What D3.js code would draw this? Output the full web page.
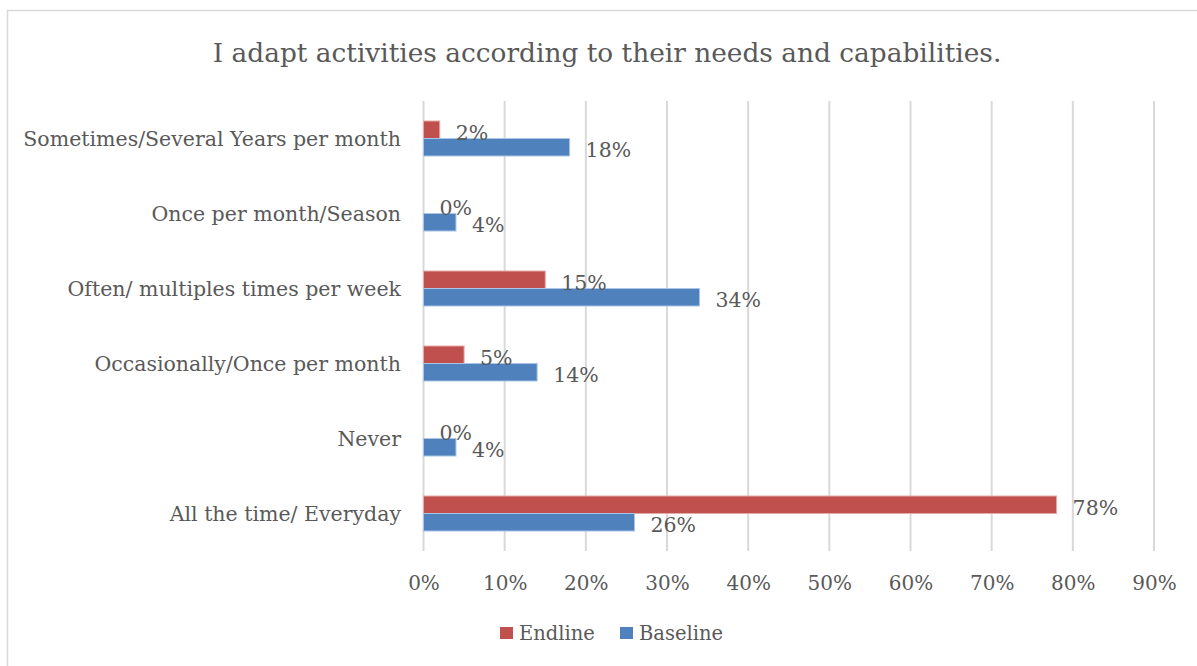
<!DOCTYPE html>
<html>
<head>
<meta charset="utf-8">
<script src="https://cdn.jsdelivr.net/npm/d3@7"></script>
<style>
  html, body { margin: 0; padding: 0; background: #fff; }
  svg { display: block; }
  text { font-family: "DejaVu Serif", "Liberation Serif", serif; fill: #595959; }
</style>
</head>
<body>
<svg id="chart" width="1197" height="666"></svg>
<script>
// Response categories, top to bottom
const categories = [
  "Sometimes/Several Years per month",
  "Once per month/Season",
  "Often/ multiples times per week",
  "Occasionally/Once per month ",
  "Never",
  "All the time/ Everyday"
];
// Share of respondents per category
const endline  = [0.02, 0.00, 0.15, 0.05, 0.00, 0.78];
const baseline = [0.18, 0.04, 0.34, 0.14, 0.04, 0.26];
const seriesNames = ["Endline", "Baseline"];
const seriesColors = ["#C0504D", "#4F81BD"];
const seriesStrokes = ["#E6A9A7", "#A9C4E6"];
const tickValues = [0, 0.1, 0.2, 0.3, 0.4, 0.5, 0.6, 0.7, 0.8, 0.9];
const title = "I adapt activities according to their needs and capabilities.";

const FONT = "DejaVu Serif, serif";
const svg = d3.select("#chart");
const pct = d3.format(".0%");

// Outer frame
svg.append("rect")
  .attr("x", 7.5).attr("y", 10.5)
  .attr("width", 1200).attr("height", 670)
  .attr("fill", "#fff").attr("stroke", "#D9D9D9").attr("stroke-width", 1.5);

// Title
svg.append("text")
  .attr("x", 607).attr("y", 62)
  .attr("text-anchor", "middle")
  .style("font-size", "26.4px")
  .text(title);

const x = d3.scaleLinear().domain([0, 0.9]).range([423.5, 1154]);
const p = 40 / 75;
const y = d3.scaleBand().domain(categories).range([101, 551])
  .paddingInner(p).paddingOuter(p / 2);
const ys = d3.scaleBand().domain(seriesNames).range([0, y.bandwidth()]);

// Vertical gridlines
svg.append("g").selectAll("line").data(tickValues).join("line")
  .attr("x1", d => x(d)).attr("x2", d => x(d))
  .attr("y1", 101).attr("y2", 551)
  .attr("stroke", "#D9D9D9").attr("stroke-width", 2);

// X axis tick labels
const xAxis = d3.axisBottom(x).tickValues(tickValues).tickFormat(pct).tickSize(0).tickPadding(0);
const gx = svg.append("g").attr("transform", "translate(0,575)").call(xAxis);
gx.select(".domain").remove();
gx.selectAll("text")
  .attr("dy", null).attr("y", 15)
  .style("font-size", "20px")
  .style("font-family", FONT)
  .attr("fill", "#595959");

// Category labels
const yAxis = d3.axisLeft(y).tickSize(0).tickPadding(0);
const gy = svg.append("g").attr("transform", "translate(401,0)").call(yAxis);
gy.select(".domain").remove();
gy.selectAll("text")
  .attr("dy", null).attr("x", 0)
  .attr("transform", "translate(0,7)")
  .style("font-size", "20.5px")
  .style("font-family", FONT)
  .attr("fill", "#595959");

// Bars and value labels
const data = [];
categories.forEach((c, i) => {
  data.push({ cat: c, s: 0, v: endline[i] });
  data.push({ cat: c, s: 1, v: baseline[i] });
});

const bars = svg.append("g");
bars.selectAll("rect").data(data.filter(d => d.v > 0)).join("rect")
  .attr("x", x(0))
  .attr("y", d => y(d.cat) + ys(seriesNames[d.s]))
  .attr("width", d => x(d.v) - x(0))
  .attr("height", ys.bandwidth())
  .attr("fill", d => seriesColors[d.s])
  .attr("stroke", d => seriesStrokes[d.s])
  .attr("stroke-width", 1);

svg.append("g").selectAll("text").data(data).join("text")
  .attr("x", d => x(d.v) + 16)
  .attr("y", d => y(d.cat) + ys(seriesNames[d.s]) + ys.bandwidth() + 1)
  .style("font-size", "20.5px")
  .attr("fill", "#404040")
  .text(d => pct(d.v));

// Legend
const legendX = [500, 620];
const lg = svg.append("g");
seriesNames.forEach((n, i) => {
  lg.append("rect")
    .attr("x", legendX[i]).attr("y", 627)
    .attr("width", 13).attr("height", 12)
    .attr("fill", seriesColors[i]);
  lg.append("text")
    .attr("x", legendX[i] + 19).attr("y", 640)
    .style("font-size", "19.5px")
    .text(n);
});
</script>
</body>
</html>
